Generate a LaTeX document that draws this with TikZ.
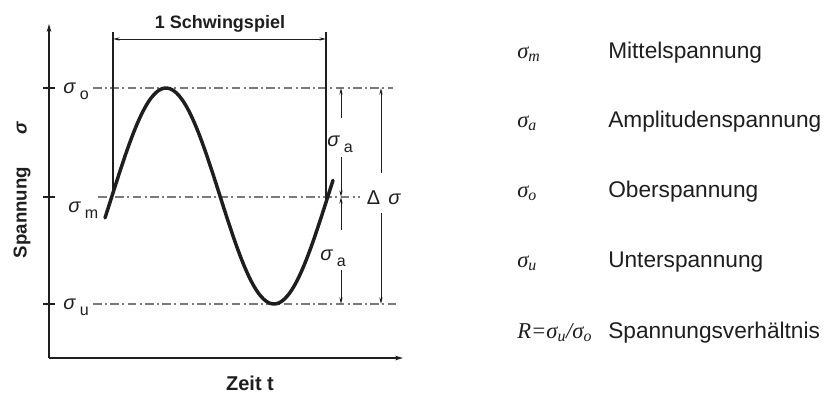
\documentclass[tikz,border=0pt]{standalone}
\usepackage{fontspec}
\setmainfont{Liberation Sans}
\newfontfamily\legserif{Liberation Serif}
\usetikzlibrary{arrows.meta,positioning}
\definecolor{inkdark}{HTML}{1E1E1E}
\definecolor{inkgray}{HTML}{7A7A7A}
\tikzset{
  axis/.style={line width=1.8pt, draw=inkdark, -{Stealth[length=6pt,width=3.5pt]}},
  levelline/.style={line width=0.8pt, draw=inkgray, dash pattern=on 6.5pt off 2.5pt on 1.5pt off 2.5pt},
  tickmark/.style={line width=1.8pt, draw=inkdark},
  cyclebar/.style={line width=1.8pt, draw=inkdark},
  dimline/.style={line width=0.6pt, draw=inkdark, -{Stealth[length=5pt,width=2.4pt]}},
  dimboth/.style={line width=0.6pt, draw=inkdark, {Stealth[length=5pt,width=2.4pt]}-{Stealth[length=5pt,width=2.4pt]}},
  sigcurve/.style={line width=2.6pt, draw=inkdark, line join=round, line cap=round},
  lvllabel/.style={font=\fontsize{15}{15}\selectfont, text=inkdark, inner sep=0pt, anchor=base west},
  axlabel/.style={font=\fontsize{14}{14}\selectfont\bfseries, text=inkdark, inner sep=1pt},
  legsym/.style={font=\fontsize{17}{17}\selectfont\legserif\itshape, text=inkdark, inner sep=0pt, anchor=base west},
  legtext/.style={font=\fontsize{17}{17}\selectfont, text=inkdark, inner sep=0pt, anchor=base west},
}
\newcommand{\lvlsig}[1]{\textit{σ}\kern3pt\raisebox{-4.5pt}{\fontsize{12}{12}\selectfont #1}}

\begin{document}
\begin{tikzpicture}[x=0.75pt,y=-0.75pt]
  \useasboundingbox (0,0) rectangle (837,394);
  % axes
  \coordinate (O) at (49,358);
  \coordinate (ytip) at (49,24);
  \coordinate (xtip) at (403,358);
  \draw[axis] (O) -- (ytip);
  \draw[axis] (O) -- (xtip);
  \node[axlabel, rotate=90] (ylab) at (22,190) {Spannung\hspace{24pt}\textit{σ}};
  \node[axlabel, font=\fontsize{15}{15}\selectfont\bfseries] (xlab) at (250,383) {Zeit t};
  % stress levels
  \coordinate (so) at (49,88);
  \coordinate (sm) at (49,197);
  \coordinate (su) at (49,304);
  \draw[tickmark] (43,88) -- (55,88);
  \draw[tickmark] (43,197) -- (55,197);
  \draw[tickmark] (43,304) -- (55,304);
  \node[lvllabel] (lo) at (63,93) {\lvlsig{o}};
  \node[lvllabel] (lm) at (68,212) {\lvlsig{m}};
  \node[lvllabel] (lu) at (63,309) {\lvlsig{u}};
  \coordinate (oend) at (393,88);
  \coordinate (mend) at (360,197);
  \coordinate (uend) at (398,304);
  \draw[levelline] ([xshift=3pt]lo.east |- so) -- (oend);
  \draw[levelline] (98,197) -- (mend);
  \draw[levelline] ([xshift=3pt]lu.east |- su) -- (uend);
  % stress over time
  \draw[sigcurve] plot[domain=105:333, samples=90, smooth] (\x, {196-108*sin(1.6667*(\x-112))});
  % one cycle
  \coordinate (cycA) at (113,32);
  \coordinate (cycAbot) at (113,194);
  \coordinate (cycB) at (326,32);
  \coordinate (cycBbot) at (326,199);
  \draw[cyclebar] (cycA) -- (cycAbot);
  \draw[cyclebar] (cycB) -- (cycBbot);
  \coordinate (perA) at (113,39);
  \coordinate (perB) at (326,39);
  \draw[dimboth] (perA) -- (perB);
  \node[axlabel, font=\fontsize{13.5}{13.5}\selectfont\bfseries] (cyc) at (220,24) {1 Schwingspiel};
  % amplitudes
  \node[lvllabel] (sa1) at (327,146) {\lvlsig{a}};
  \node[lvllabel] (sa2) at (320,260) {\lvlsig{a}};
  \coordinate (ao) at (341,88);
  \coordinate (am) at (341,197);
  \coordinate (au) at (341,304);
  \coordinate (a1top) at (341,118);
  \coordinate (a1bot) at (341,157);
  \coordinate (a2top) at (341,230);
  \coordinate (a2bot) at (341,270);
  \draw[dimline] (a1top) -- (ao);
  \draw[dimline] (a1bot) -- (am);
  \draw[dimline] (a2top) -- (am);
  \draw[dimline] (a2bot) -- (au);
  % range
  \node[lvllabel, anchor=center] (ds) at (384,198) {Δ\hspace{6pt}\textit{σ}};
  \coordinate (do) at (381,88);
  \coordinate (du) at (381,304);
  \coordinate (d1) at (381,173);
  \coordinate (d2) at (381,213);
  \draw[dimline] (d1) -- (do);
  \draw[dimline] (d2) -- (du);
  % legend
  \node[legsym] (gm) at (517,58) {σ\textsubscript{m}};
  \node[legsym] (ga) at (517,127) {σ\textsubscript{a}};
  \node[legsym] (go) at (517,197) {σ\textsubscript{o}};
  \node[legsym] (gu) at (517,267) {σ\textsubscript{u}};
  \node[legsym] (gr) at (517,338) {R=σ\textsubscript{u}/σ\textsubscript{o}};
  \node[legtext] (tm) at (608,58) {Mittelspannung};
  \node[legtext] (ta) at (608,127) {Amplitudenspannung};
  \node[legtext] (to) at (608,197) {Oberspannung};
  \node[legtext] (tu) at (608,267) {Unterspannung};
  \node[legtext] (tr) at (608,338) {Spannungsverhältnis};
\end{tikzpicture}
\end{document}
